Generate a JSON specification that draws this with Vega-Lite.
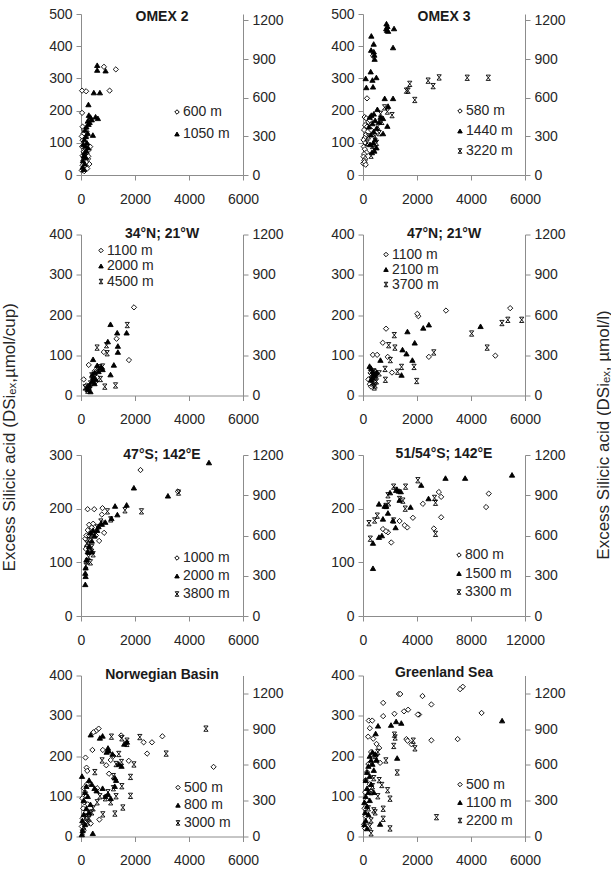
{
  "$schema": "https://vega.github.io/schema/vega-lite/v6.json",
  "padding": {"top": 7, "left": 0, "right": 0, "bottom": 4},
  "background": "white",
  "config": {
    "font": "Liberation Sans",
    "numberFormat": "d",
    "view": {"stroke": null},
    "axis": {"grid": false, "domainColor": "#8c8c8c", "tickColor": "#8c8c8c", "tickSize": 5, "labelFont": "Liberation Sans", "labelFontSize": 14, "labelColor": "#262626", "labelPadding": 4, "labelFlush": false, "labelOverlap": false, "format": "d"},
    "axisX": {"labelPadding": 12},
    "legend": {"labelFont": "Liberation Sans", "labelFontSize": 14, "labelColor": "#262626", "symbolSize": 20, "symbolStrokeWidth": 1, "padding": 0, "labelOffset": -1, "orient": "none"},
    "title": {"font": "Liberation Sans", "fontSize": 14, "fontWeight": "bold", "color": "#1a1a1a", "anchor": "middle", "offset": -13}
  },
  "datasets": {
    "omex2": [
      {"x":40,"dsi":193,"depth":"600 m"},{"x":40,"dsi":262,"depth":"600 m"},{"x":190,"dsi":260,"depth":"600 m"},{"x":850,"dsi":336,"depth":"600 m"},{"x":1290,"dsi":328,"depth":"600 m"},{"x":1060,"dsi":262,"depth":"600 m"},
      {"x":60,"dsi":150,"depth":"600 m"},{"x":120,"dsi":140,"depth":"600 m"},{"x":90,"dsi":128,"depth":"600 m"},{"x":180,"dsi":118,"depth":"600 m"},{"x":60,"dsi":108,"depth":"600 m"},{"x":140,"dsi":100,"depth":"600 m"},{"x":230,"dsi":95,"depth":"600 m"},{"x":40,"dsi":88,"depth":"600 m"},{"x":170,"dsi":82,"depth":"600 m"},{"x":290,"dsi":78,"depth":"600 m"},{"x":100,"dsi":72,"depth":"600 m"},{"x":210,"dsi":66,"depth":"600 m"},{"x":60,"dsi":60,"depth":"600 m"},{"x":150,"dsi":55,"depth":"600 m"},{"x":260,"dsi":50,"depth":"600 m"},{"x":90,"dsi":45,"depth":"600 m"},{"x":190,"dsi":40,"depth":"600 m"},{"x":310,"dsi":34,"depth":"600 m"},{"x":60,"dsi":30,"depth":"600 m"},{"x":140,"dsi":25,"depth":"600 m"},{"x":230,"dsi":20,"depth":"600 m"},{"x":80,"dsi":17,"depth":"600 m"},{"x":30,"dsi":14,"depth":"600 m"},{"x":120,"dsi":12,"depth":"600 m"},{"x":340,"dsi":88,"depth":"600 m"},{"x":270,"dsi":58,"depth":"600 m"},{"x":200,"dsi":135,"depth":"600 m"},{"x":30,"dsi":120,"depth":"600 m"},
      {"x":600,"dsi":341,"depth":"1050 m"},{"x":600,"dsi":326,"depth":"1050 m"},{"x":910,"dsi":324,"depth":"1050 m"},{"x":475,"dsi":256,"depth":"1050 m"},{"x":700,"dsi":256,"depth":"1050 m"},{"x":275,"dsi":219,"depth":"1050 m"},{"x":290,"dsi":186,"depth":"1050 m"},{"x":350,"dsi":180,"depth":"1050 m"},{"x":400,"dsi":172,"depth":"1050 m"},{"x":540,"dsi":181,"depth":"1050 m"},{"x":625,"dsi":176,"depth":"1050 m"},{"x":250,"dsi":168,"depth":"1050 m"},{"x":320,"dsi":164,"depth":"1050 m"},{"x":280,"dsi":158,"depth":"1050 m"},{"x":440,"dsi":124,"depth":"1050 m"},{"x":200,"dsi":150,"depth":"1050 m"},{"x":150,"dsi":140,"depth":"1050 m"},{"x":250,"dsi":130,"depth":"1050 m"},{"x":180,"dsi":120,"depth":"1050 m"},{"x":120,"dsi":110,"depth":"1050 m"},{"x":220,"dsi":100,"depth":"1050 m"},{"x":90,"dsi":95,"depth":"1050 m"},{"x":160,"dsi":90,"depth":"1050 m"},{"x":260,"dsi":85,"depth":"1050 m"},{"x":200,"dsi":75,"depth":"1050 m"},{"x":130,"dsi":70,"depth":"1050 m"},{"x":100,"dsi":60,"depth":"1050 m"},{"x":180,"dsi":55,"depth":"1050 m"},{"x":70,"dsi":45,"depth":"1050 m"},{"x":140,"dsi":35,"depth":"1050 m"},{"x":60,"dsi":25,"depth":"1050 m"},{"x":100,"dsi":18,"depth":"1050 m"}
    ],
    "omex3": [
      {"x":371,"dsi":370,"depth":"580 m"},{"x":148,"dsi":238,"depth":"580 m"},{"x":60,"dsi":180,"depth":"580 m"},{"x":120,"dsi":176,"depth":"580 m"},{"x":200,"dsi":165,"depth":"580 m"},{"x":80,"dsi":155,"depth":"580 m"},{"x":150,"dsi":150,"depth":"580 m"},{"x":40,"dsi":140,"depth":"580 m"},{"x":110,"dsi":125,"depth":"580 m"},{"x":60,"dsi":115,"depth":"580 m"},{"x":20,"dsi":109,"depth":"580 m"},{"x":90,"dsi":100,"depth":"580 m"},{"x":30,"dsi":88,"depth":"580 m"},{"x":70,"dsi":80,"depth":"580 m"},{"x":130,"dsi":70,"depth":"580 m"},{"x":40,"dsi":65,"depth":"580 m"},{"x":20,"dsi":57,"depth":"580 m"},{"x":80,"dsi":50,"depth":"580 m"},{"x":50,"dsi":45,"depth":"580 m"},{"x":10,"dsi":36,"depth":"580 m"},{"x":60,"dsi":40,"depth":"580 m"},{"x":100,"dsi":32,"depth":"580 m"},{"x":250,"dsi":170,"depth":"580 m"},{"x":300,"dsi":140,"depth":"580 m"},
      {"x":870,"dsi":470,"depth":"1440 m"},{"x":905,"dsi":462,"depth":"1440 m"},{"x":860,"dsi":455,"depth":"1440 m"},{"x":890,"dsi":450,"depth":"1440 m"},{"x":930,"dsi":447,"depth":"1440 m"},{"x":1150,"dsi":455,"depth":"1440 m"},{"x":1113,"dsi":396,"depth":"1440 m"},{"x":309,"dsi":432,"depth":"1440 m"},{"x":396,"dsi":407,"depth":"1440 m"},{"x":300,"dsi":388,"depth":"1440 m"},{"x":400,"dsi":383,"depth":"1440 m"},{"x":420,"dsi":373,"depth":"1440 m"},{"x":430,"dsi":360,"depth":"1440 m"},{"x":285,"dsi":321,"depth":"1440 m"},{"x":100,"dsi":300,"depth":"1440 m"},{"x":495,"dsi":303,"depth":"1440 m"},{"x":350,"dsi":295,"depth":"1440 m"},{"x":124,"dsi":272,"depth":"1440 m"},{"x":371,"dsi":274,"depth":"1440 m"},{"x":804,"dsi":238,"depth":"1440 m"},{"x":1113,"dsi":238,"depth":"1440 m"},{"x":928,"dsi":214,"depth":"1440 m"},{"x":742,"dsi":176,"depth":"1440 m"},{"x":903,"dsi":152,"depth":"1440 m"},{"x":742,"dsi":129,"depth":"1440 m"},{"x":532,"dsi":204,"depth":"1440 m"},{"x":309,"dsi":186,"depth":"1440 m"},{"x":400,"dsi":190,"depth":"1440 m"},{"x":250,"dsi":180,"depth":"1440 m"},{"x":450,"dsi":170,"depth":"1440 m"},{"x":350,"dsi":160,"depth":"1440 m"},{"x":220,"dsi":150,"depth":"1440 m"},{"x":500,"dsi":145,"depth":"1440 m"},{"x":400,"dsi":135,"depth":"1440 m"},{"x":300,"dsi":125,"depth":"1440 m"},{"x":450,"dsi":110,"depth":"1440 m"},{"x":380,"dsi":100,"depth":"1440 m"},{"x":260,"dsi":95,"depth":"1440 m"},{"x":500,"dsi":85,"depth":"1440 m"},{"x":420,"dsi":75,"depth":"1440 m"},{"x":330,"dsi":70,"depth":"1440 m"},{"x":650,"dsi":180,"depth":"1440 m"},{"x":600,"dsi":165,"depth":"1440 m"},
      {"x":1608,"dsi":262,"depth":"3220 m"},{"x":1670,"dsi":262,"depth":"3220 m"},{"x":1732,"dsi":283,"depth":"3220 m"},{"x":1918,"dsi":233,"depth":"3220 m"},{"x":2412,"dsi":293,"depth":"3220 m"},{"x":2597,"dsi":276,"depth":"3220 m"},{"x":2820,"dsi":303,"depth":"3220 m"},{"x":3860,"dsi":302,"depth":"3220 m"},{"x":4640,"dsi":302,"depth":"3220 m"},{"x":903,"dsi":197,"depth":"3220 m"},{"x":1076,"dsi":186,"depth":"3220 m"},{"x":800,"dsi":210,"depth":"3220 m"},{"x":650,"dsi":190,"depth":"3220 m"},{"x":700,"dsi":165,"depth":"3220 m"},{"x":550,"dsi":150,"depth":"3220 m"},{"x":600,"dsi":130,"depth":"3220 m"},{"x":450,"dsi":120,"depth":"3220 m"},{"x":500,"dsi":100,"depth":"3220 m"},{"x":350,"dsi":90,"depth":"3220 m"},{"x":400,"dsi":80,"depth":"3220 m"},{"x":300,"dsi":60,"depth":"3220 m"},{"x":200,"dsi":120,"depth":"3220 m"},{"x":150,"dsi":100,"depth":"3220 m"}
    ],
    "n34": [
      {"x":1962,"dsi":219,"depth":"1100 m"},{"x":1776,"dsi":88,"depth":"1100 m"},{"x":1316,"dsi":141,"depth":"1100 m"},{"x":845,"dsi":108,"depth":"1100 m"},{"x":286,"dsi":76,"depth":"1100 m"},{"x":100,"dsi":40,"depth":"1100 m"},{"x":500,"dsi":60,"depth":"1100 m"},{"x":600,"dsi":45,"depth":"1100 m"},{"x":400,"dsi":30,"depth":"1100 m"},{"x":300,"dsi":20,"depth":"1100 m"},{"x":700,"dsi":70,"depth":"1100 m"},{"x":200,"dsi":25,"depth":"1100 m"},{"x":550,"dsi":35,"depth":"1100 m"},
      {"x":1093,"dsi":177,"depth":"2000 m"},{"x":1689,"dsi":156,"depth":"2000 m"},{"x":1341,"dsi":156,"depth":"2000 m"},{"x":1366,"dsi":123,"depth":"2000 m"},{"x":1366,"dsi":108,"depth":"2000 m"},{"x":994,"dsi":134,"depth":"2000 m"},{"x":1093,"dsi":52,"depth":"2000 m"},{"x":447,"dsi":90,"depth":"2000 m"},{"x":1217,"dsi":76,"depth":"2000 m"},{"x":600,"dsi":75,"depth":"2000 m"},{"x":750,"dsi":70,"depth":"2000 m"},{"x":800,"dsi":65,"depth":"2000 m"},{"x":500,"dsi":57,"depth":"2000 m"},{"x":450,"dsi":45,"depth":"2000 m"},{"x":550,"dsi":40,"depth":"2000 m"},{"x":400,"dsi":35,"depth":"2000 m"},{"x":300,"dsi":25,"depth":"2000 m"},{"x":250,"dsi":15,"depth":"2000 m"},{"x":350,"dsi":10,"depth":"2000 m"},{"x":220,"dsi":20,"depth":"2000 m"},{"x":650,"dsi":60,"depth":"2000 m"},{"x":500,"dsi":30,"depth":"2000 m"},{"x":420,"dsi":52,"depth":"2000 m"},
      {"x":1714,"dsi":175,"depth":"4500 m"},{"x":596,"dsi":119,"depth":"4500 m"},{"x":944,"dsi":125,"depth":"4500 m"},{"x":969,"dsi":105,"depth":"4500 m"},{"x":1279,"dsi":25,"depth":"4500 m"},{"x":882,"dsi":22,"depth":"4500 m"},{"x":720,"dsi":41,"depth":"4500 m"},{"x":400,"dsi":50,"depth":"4500 m"},{"x":500,"dsi":45,"depth":"4500 m"},{"x":300,"dsi":22,"depth":"4500 m"},{"x":250,"dsi":12,"depth":"4500 m"},{"x":350,"dsi":30,"depth":"4500 m"},{"x":600,"dsi":65,"depth":"4500 m"},{"x":700,"dsi":70,"depth":"4500 m"},{"x":150,"dsi":20,"depth":"4500 m"},{"x":450,"dsi":38,"depth":"4500 m"},{"x":800,"dsi":72,"depth":"4500 m"}
    ],
    "n47": [
      {"x":5451,"dsi":217,"depth":"1100 m"},{"x":4902,"dsi":99,"depth":"1100 m"},{"x":3073,"dsi":211,"depth":"1100 m"},{"x":2049,"dsi":197,"depth":"1100 m"},{"x":2012,"dsi":203,"depth":"1100 m"},{"x":854,"dsi":166,"depth":"1100 m"},{"x":732,"dsi":131,"depth":"1100 m"},{"x":366,"dsi":101,"depth":"1100 m"},{"x":524,"dsi":101,"depth":"1100 m"},{"x":915,"dsi":96,"depth":"1100 m"},{"x":2439,"dsi":96,"depth":"1100 m"},{"x":1073,"dsi":57,"depth":"1100 m"},{"x":200,"dsi":40,"depth":"1100 m"},{"x":250,"dsi":28,"depth":"1100 m"},{"x":300,"dsi":22,"depth":"1100 m"},{"x":350,"dsi":48,"depth":"1100 m"},{"x":400,"dsi":35,"depth":"1100 m"},{"x":450,"dsi":60,"depth":"1100 m"},{"x":280,"dsi":56,"depth":"1100 m"},
      {"x":4354,"dsi":172,"depth":"2100 m"},{"x":2439,"dsi":176,"depth":"2100 m"},{"x":2232,"dsi":168,"depth":"2100 m"},{"x":1646,"dsi":159,"depth":"2100 m"},{"x":1915,"dsi":131,"depth":"2100 m"},{"x":1463,"dsi":114,"depth":"2100 m"},{"x":1610,"dsi":104,"depth":"2100 m"},{"x":1829,"dsi":88,"depth":"2100 m"},{"x":646,"dsi":88,"depth":"2100 m"},{"x":1427,"dsi":51,"depth":"2100 m"},{"x":244,"dsi":73,"depth":"2100 m"},{"x":300,"dsi":68,"depth":"2100 m"},{"x":350,"dsi":60,"depth":"2100 m"},{"x":400,"dsi":55,"depth":"2100 m"},{"x":450,"dsi":50,"depth":"2100 m"},{"x":500,"dsi":58,"depth":"2100 m"},{"x":350,"dsi":45,"depth":"2100 m"},{"x":300,"dsi":40,"depth":"2100 m"},
      {"x":5878,"dsi":188,"depth":"3700 m"},{"x":5366,"dsi":188,"depth":"3700 m"},{"x":5146,"dsi":180,"depth":"3700 m"},{"x":4024,"dsi":154,"depth":"3700 m"},{"x":4598,"dsi":119,"depth":"3700 m"},{"x":2622,"dsi":107,"depth":"3700 m"},{"x":1159,"dsi":150,"depth":"3700 m"},{"x":951,"dsi":125,"depth":"3700 m"},{"x":1183,"dsi":119,"depth":"3700 m"},{"x":1012,"dsi":88,"depth":"3700 m"},{"x":1890,"dsi":71,"depth":"3700 m"},{"x":1427,"dsi":71,"depth":"3700 m"},{"x":1280,"dsi":59,"depth":"3700 m"},{"x":1988,"dsi":36,"depth":"3700 m"},{"x":829,"dsi":39,"depth":"3700 m"},{"x":817,"dsi":66,"depth":"3700 m"},{"x":400,"dsi":60,"depth":"3700 m"},{"x":450,"dsi":45,"depth":"3700 m"},{"x":500,"dsi":35,"depth":"3700 m"},{"x":350,"dsi":30,"depth":"3700 m"},{"x":450,"dsi":25,"depth":"3700 m"},{"x":300,"dsi":40,"depth":"3700 m"},{"x":600,"dsi":55,"depth":"3700 m"},{"x":420,"dsi":20,"depth":"3700 m"}
    ],
    "s47": [
      {"x":2204,"dsi":272,"depth":"1000 m"},{"x":3588,"dsi":232,"depth":"1000 m"},{"x":245,"dsi":199,"depth":"1000 m"},{"x":490,"dsi":199,"depth":"1000 m"},{"x":796,"dsi":201,"depth":"1000 m"},{"x":771,"dsi":189,"depth":"1000 m"},{"x":857,"dsi":155,"depth":"1000 m"},{"x":673,"dsi":140,"depth":"1000 m"},{"x":159,"dsi":144,"depth":"1000 m"},{"x":300,"dsi":170,"depth":"1000 m"},{"x":350,"dsi":160,"depth":"1000 m"},{"x":250,"dsi":160,"depth":"1000 m"},{"x":200,"dsi":150,"depth":"1000 m"},{"x":400,"dsi":165,"depth":"1000 m"},{"x":450,"dsi":172,"depth":"1000 m"},{"x":550,"dsi":150,"depth":"1000 m"},{"x":300,"dsi":150,"depth":"1000 m"},{"x":220,"dsi":130,"depth":"1000 m"},{"x":180,"dsi":125,"depth":"1000 m"},
      {"x":4739,"dsi":286,"depth":"2000 m"},{"x":1959,"dsi":239,"depth":"2000 m"},{"x":3220,"dsi":224,"depth":"2000 m"},{"x":1261,"dsi":205,"depth":"2000 m"},{"x":1690,"dsi":207,"depth":"2000 m"},{"x":1347,"dsi":189,"depth":"2000 m"},{"x":1127,"dsi":182,"depth":"2000 m"},{"x":649,"dsi":167,"depth":"2000 m"},{"x":159,"dsi":80,"depth":"2000 m"},{"x":170,"dsi":74,"depth":"2000 m"},{"x":159,"dsi":59,"depth":"2000 m"},{"x":900,"dsi":175,"depth":"2000 m"},{"x":750,"dsi":172,"depth":"2000 m"},{"x":600,"dsi":160,"depth":"2000 m"},{"x":450,"dsi":160,"depth":"2000 m"},{"x":350,"dsi":155,"depth":"2000 m"},{"x":500,"dsi":150,"depth":"2000 m"},{"x":400,"dsi":140,"depth":"2000 m"},{"x":300,"dsi":130,"depth":"2000 m"},{"x":250,"dsi":120,"depth":"2000 m"},{"x":200,"dsi":105,"depth":"2000 m"},{"x":170,"dsi":90,"depth":"2000 m"},{"x":400,"dsi":120,"depth":"2000 m"},
      {"x":3612,"dsi":230,"depth":"3800 m"},{"x":2241,"dsi":195,"depth":"3800 m"},{"x":1629,"dsi":197,"depth":"3800 m"},{"x":980,"dsi":195,"depth":"3800 m"},{"x":735,"dsi":176,"depth":"3800 m"},{"x":184,"dsi":94,"depth":"3800 m"},{"x":245,"dsi":102,"depth":"3800 m"},{"x":282,"dsi":141,"depth":"3800 m"},{"x":600,"dsi":165,"depth":"3800 m"},{"x":500,"dsi":150,"depth":"3800 m"},{"x":350,"dsi":150,"depth":"3800 m"},{"x":400,"dsi":128,"depth":"3800 m"},{"x":300,"dsi":120,"depth":"3800 m"},{"x":450,"dsi":115,"depth":"3800 m"},{"x":220,"dsi":135,"depth":"3800 m"},{"x":800,"dsi":172,"depth":"3800 m"},{"x":1100,"dsi":180,"depth":"3800 m"},{"x":280,"dsi":110,"depth":"3800 m"},{"x":350,"dsi":100,"depth":"3800 m"}
    ],
    "s51": [
      {"x":9314,"dsi":228,"depth":"800 m"},{"x":9117,"dsi":203,"depth":"800 m"},{"x":5618,"dsi":231,"depth":"800 m"},{"x":5790,"dsi":222,"depth":"800 m"},{"x":5790,"dsi":184,"depth":"800 m"},{"x":4435,"dsi":209,"depth":"800 m"},{"x":3696,"dsi":183,"depth":"800 m"},{"x":3277,"dsi":165,"depth":"800 m"},{"x":3080,"dsi":169,"depth":"800 m"},{"x":2710,"dsi":177,"depth":"800 m"},{"x":1478,"dsi":162,"depth":"800 m"},{"x":1848,"dsi":156,"depth":"800 m"},{"x":2094,"dsi":137,"depth":"800 m"},{"x":5248,"dsi":163,"depth":"800 m"},{"x":1700,"dsi":158,"depth":"800 m"},
      {"x":11039,"dsi":263,"depth":"1500 m"},{"x":7564,"dsi":257,"depth":"1500 m"},{"x":6111,"dsi":257,"depth":"1500 m"},{"x":4854,"dsi":219,"depth":"1500 m"},{"x":4312,"dsi":244,"depth":"1500 m"},{"x":3523,"dsi":203,"depth":"1500 m"},{"x":2661,"dsi":233,"depth":"1500 m"},{"x":2800,"dsi":232,"depth":"1500 m"},{"x":2500,"dsi":236,"depth":"1500 m"},{"x":2710,"dsi":216,"depth":"1500 m"},{"x":2415,"dsi":165,"depth":"1500 m"},{"x":2218,"dsi":178,"depth":"1500 m"},{"x":1478,"dsi":181,"depth":"1500 m"},{"x":1183,"dsi":209,"depth":"1500 m"},{"x":1725,"dsi":205,"depth":"1500 m"},{"x":1848,"dsi":192,"depth":"1500 m"},{"x":1183,"dsi":147,"depth":"1500 m"},{"x":1400,"dsi":150,"depth":"1500 m"},{"x":739,"dsi":136,"depth":"1500 m"},{"x":739,"dsi":89,"depth":"1500 m"},{"x":2000,"dsi":230,"depth":"1500 m"},{"x":1600,"dsi":205,"depth":"1500 m"},
      {"x":4066,"dsi":253,"depth":"3300 m"},{"x":3154,"dsi":241,"depth":"3300 m"},{"x":2267,"dsi":241,"depth":"3300 m"},{"x":1848,"dsi":225,"depth":"3300 m"},{"x":2957,"dsi":215,"depth":"3300 m"},{"x":3129,"dsi":200,"depth":"3300 m"},{"x":5298,"dsi":220,"depth":"3300 m"},{"x":5372,"dsi":211,"depth":"3300 m"},{"x":5372,"dsi":153,"depth":"3300 m"},{"x":2267,"dsi":178,"depth":"3300 m"},{"x":1059,"dsi":187,"depth":"3300 m"},{"x":862,"dsi":178,"depth":"3300 m"},{"x":443,"dsi":173,"depth":"3300 m"},{"x":542,"dsi":144,"depth":"3300 m"},{"x":1900,"dsi":210,"depth":"3300 m"},{"x":2400,"dsi":235,"depth":"3300 m"},{"x":2700,"dsi":218,"depth":"3300 m"},{"x":1700,"dsi":205,"depth":"3300 m"}
    ],
    "norw": [
      {"x":4910,"dsi":173,"depth":"500 m"},{"x":3013,"dsi":249,"depth":"500 m"},{"x":2628,"dsi":234,"depth":"500 m"},{"x":2321,"dsi":234,"depth":"500 m"},{"x":2449,"dsi":206,"depth":"500 m"},{"x":1487,"dsi":251,"depth":"500 m"},{"x":1769,"dsi":188,"depth":"500 m"},{"x":654,"dsi":268,"depth":"500 m"},{"x":551,"dsi":262,"depth":"500 m"},{"x":462,"dsi":259,"depth":"500 m"},{"x":423,"dsi":215,"depth":"500 m"},{"x":808,"dsi":215,"depth":"500 m"},{"x":936,"dsi":177,"depth":"500 m"},{"x":1038,"dsi":156,"depth":"500 m"},{"x":167,"dsi":196,"depth":"500 m"},{"x":205,"dsi":171,"depth":"500 m"},{"x":231,"dsi":163,"depth":"500 m"},{"x":680,"dsi":42,"depth":"500 m"},{"x":359,"dsi":32,"depth":"500 m"},{"x":100,"dsi":120,"depth":"500 m"},{"x":150,"dsi":110,"depth":"500 m"},{"x":200,"dsi":100,"depth":"500 m"},{"x":50,"dsi":95,"depth":"500 m"},{"x":120,"dsi":85,"depth":"500 m"},{"x":250,"dsi":80,"depth":"500 m"},{"x":80,"dsi":70,"depth":"500 m"},{"x":180,"dsi":60,"depth":"500 m"},{"x":300,"dsi":55,"depth":"500 m"},{"x":60,"dsi":45,"depth":"500 m"},{"x":140,"dsi":35,"depth":"500 m"},{"x":30,"dsi":25,"depth":"500 m"},{"x":100,"dsi":15,"depth":"500 m"},{"x":220,"dsi":130,"depth":"500 m"},{"x":1200,"dsi":200,"depth":"500 m"},{"x":1100,"dsi":190,"depth":"500 m"},{"x":600,"dsi":120,"depth":"500 m"},
      {"x":359,"dsi":253,"depth":"800 m"},{"x":38,"dsi":150,"depth":"800 m"},{"x":800,"dsi":250,"depth":"800 m"},{"x":700,"dsi":245,"depth":"800 m"},{"x":577,"dsi":114,"depth":"800 m"},{"x":436,"dsi":8,"depth":"800 m"},{"x":1256,"dsi":146,"depth":"800 m"},{"x":1026,"dsi":213,"depth":"800 m"},{"x":1167,"dsi":205,"depth":"800 m"},{"x":300,"dsi":140,"depth":"800 m"},{"x":400,"dsi":130,"depth":"800 m"},{"x":500,"dsi":120,"depth":"800 m"},{"x":200,"dsi":125,"depth":"800 m"},{"x":150,"dsi":110,"depth":"800 m"},{"x":250,"dsi":100,"depth":"800 m"},{"x":100,"dsi":90,"depth":"800 m"},{"x":350,"dsi":80,"depth":"800 m"},{"x":200,"dsi":70,"depth":"800 m"},{"x":100,"dsi":55,"depth":"800 m"},{"x":300,"dsi":60,"depth":"800 m"},{"x":50,"dsi":40,"depth":"800 m"},{"x":150,"dsi":30,"depth":"800 m"},{"x":60,"dsi":15,"depth":"800 m"},{"x":30,"dsi":5,"depth":"800 m"},{"x":900,"dsi":100,"depth":"800 m"},{"x":1000,"dsi":105,"depth":"800 m"},{"x":1100,"dsi":95,"depth":"800 m"},{"x":800,"dsi":120,"depth":"800 m"},{"x":1300,"dsi":140,"depth":"800 m"},{"x":1250,"dsi":125,"depth":"800 m"},{"x":1500,"dsi":175,"depth":"800 m"},{"x":1400,"dsi":180,"depth":"800 m"},{"x":1700,"dsi":235,"depth":"800 m"},{"x":1600,"dsi":230,"depth":"800 m"},{"x":1000,"dsi":220,"depth":"800 m"},{"x":950,"dsi":210,"depth":"800 m"},
      {"x":4628,"dsi":268,"depth":"3000 m"},{"x":3154,"dsi":206,"depth":"3000 m"},{"x":2179,"dsi":247,"depth":"3000 m"},{"x":1961,"dsi":179,"depth":"3000 m"},{"x":1833,"dsi":101,"depth":"3000 m"},{"x":1833,"dsi":148,"depth":"3000 m"},{"x":1551,"dsi":72,"depth":"3000 m"},{"x":1256,"dsi":57,"depth":"3000 m"},{"x":1513,"dsi":125,"depth":"3000 m"},{"x":1705,"dsi":238,"depth":"3000 m"},{"x":1513,"dsi":244,"depth":"3000 m"},{"x":1128,"dsi":248,"depth":"3000 m"},{"x":782,"dsi":189,"depth":"3000 m"},{"x":513,"dsi":160,"depth":"3000 m"},{"x":808,"dsi":55,"depth":"3000 m"},{"x":1300,"dsi":180,"depth":"3000 m"},{"x":1500,"dsi":185,"depth":"3000 m"},{"x":1200,"dsi":150,"depth":"3000 m"},{"x":1000,"dsi":110,"depth":"3000 m"},{"x":900,"dsi":95,"depth":"3000 m"},{"x":1100,"dsi":85,"depth":"3000 m"},{"x":700,"dsi":100,"depth":"3000 m"},{"x":600,"dsi":85,"depth":"3000 m"},{"x":450,"dsi":70,"depth":"3000 m"},{"x":400,"dsi":60,"depth":"3000 m"},{"x":300,"dsi":45,"depth":"3000 m"},{"x":250,"dsi":35,"depth":"3000 m"},{"x":200,"dsi":50,"depth":"3000 m"},{"x":100,"dsi":25,"depth":"3000 m"},{"x":50,"dsi":10,"depth":"3000 m"},{"x":1300,"dsi":100,"depth":"3000 m"},{"x":1200,"dsi":120,"depth":"3000 m"},{"x":1700,"dsi":230,"depth":"3000 m"},{"x":1400,"dsi":205,"depth":"3000 m"}
    ],
    "green": [
      {"x":3696,"dsi":372,"depth":"500 m"},{"x":3595,"dsi":366,"depth":"500 m"},{"x":4392,"dsi":307,"depth":"500 m"},{"x":2532,"dsi":328,"depth":"500 m"},{"x":2203,"dsi":349,"depth":"500 m"},{"x":1329,"dsi":354,"depth":"500 m"},{"x":1380,"dsi":354,"depth":"500 m"},{"x":747,"dsi":332,"depth":"500 m"},{"x":2076,"dsi":303,"depth":"500 m"},{"x":2030,"dsi":303,"depth":"500 m"},{"x":1165,"dsi":305,"depth":"500 m"},{"x":1519,"dsi":311,"depth":"500 m"},{"x":1671,"dsi":315,"depth":"500 m"},{"x":747,"dsi":299,"depth":"500 m"},{"x":215,"dsi":288,"depth":"500 m"},{"x":342,"dsi":288,"depth":"500 m"},{"x":253,"dsi":269,"depth":"500 m"},{"x":190,"dsi":248,"depth":"500 m"},{"x":380,"dsi":243,"depth":"500 m"},{"x":2532,"dsi":239,"depth":"500 m"},{"x":3506,"dsi":242,"depth":"500 m"},{"x":1608,"dsi":242,"depth":"500 m"},{"x":1650,"dsi":238,"depth":"500 m"},{"x":1797,"dsi":229,"depth":"500 m"},{"x":633,"dsi":183,"depth":"500 m"},{"x":500,"dsi":230,"depth":"500 m"},{"x":600,"dsi":220,"depth":"500 m"},{"x":450,"dsi":200,"depth":"500 m"},{"x":300,"dsi":210,"depth":"500 m"},{"x":200,"dsi":180,"depth":"500 m"},{"x":150,"dsi":160,"depth":"500 m"},{"x":100,"dsi":140,"depth":"500 m"},{"x":250,"dsi":130,"depth":"500 m"},{"x":80,"dsi":110,"depth":"500 m"},{"x":150,"dsi":90,"depth":"500 m"},{"x":60,"dsi":70,"depth":"500 m"},{"x":100,"dsi":50,"depth":"500 m"},{"x":40,"dsi":30,"depth":"500 m"},{"x":80,"dsi":20,"depth":"500 m"},
      {"x":5152,"dsi":288,"depth":"1100 m"},{"x":557,"dsi":275,"depth":"1100 m"},{"x":1038,"dsi":277,"depth":"1100 m"},{"x":1228,"dsi":286,"depth":"1100 m"},{"x":1418,"dsi":282,"depth":"1100 m"},{"x":468,"dsi":256,"depth":"1100 m"},{"x":1266,"dsi":195,"depth":"1100 m"},{"x":633,"dsi":31,"depth":"1100 m"},{"x":250,"dsi":200,"depth":"1100 m"},{"x":300,"dsi":190,"depth":"1100 m"},{"x":200,"dsi":175,"depth":"1100 m"},{"x":350,"dsi":180,"depth":"1100 m"},{"x":150,"dsi":160,"depth":"1100 m"},{"x":400,"dsi":165,"depth":"1100 m"},{"x":250,"dsi":150,"depth":"1100 m"},{"x":100,"dsi":140,"depth":"1100 m"},{"x":300,"dsi":130,"depth":"1100 m"},{"x":150,"dsi":120,"depth":"1100 m"},{"x":200,"dsi":110,"depth":"1100 m"},{"x":100,"dsi":100,"depth":"1100 m"},{"x":250,"dsi":90,"depth":"1100 m"},{"x":50,"dsi":85,"depth":"1100 m"},{"x":150,"dsi":75,"depth":"1100 m"},{"x":80,"dsi":60,"depth":"1100 m"},{"x":200,"dsi":55,"depth":"1100 m"},{"x":100,"dsi":40,"depth":"1100 m"},{"x":50,"dsi":30,"depth":"1100 m"},{"x":150,"dsi":20,"depth":"1100 m"},{"x":400,"dsi":110,"depth":"1100 m"},{"x":500,"dsi":190,"depth":"1100 m"},{"x":450,"dsi":205,"depth":"1100 m"},{"x":350,"dsi":210,"depth":"1100 m"},
      {"x":2722,"dsi":48,"depth":"2200 m"},{"x":1165,"dsi":253,"depth":"2200 m"},{"x":1190,"dsi":246,"depth":"2200 m"},{"x":1139,"dsi":225,"depth":"2200 m"},{"x":1266,"dsi":159,"depth":"2200 m"},{"x":1861,"dsi":238,"depth":"2200 m"},{"x":1924,"dsi":219,"depth":"2200 m"},{"x":848,"dsi":189,"depth":"2200 m"},{"x":696,"dsi":128,"depth":"2200 m"},{"x":911,"dsi":115,"depth":"2200 m"},{"x":1000,"dsi":94,"depth":"2200 m"},{"x":747,"dsi":69,"depth":"2200 m"},{"x":747,"dsi":44,"depth":"2200 m"},{"x":1000,"dsi":20,"depth":"2200 m"},{"x":450,"dsi":200,"depth":"2200 m"},{"x":550,"dsi":210,"depth":"2200 m"},{"x":500,"dsi":195,"depth":"2200 m"},{"x":400,"dsi":145,"depth":"2200 m"},{"x":350,"dsi":125,"depth":"2200 m"},{"x":300,"dsi":110,"depth":"2200 m"},{"x":450,"dsi":60,"depth":"2200 m"},{"x":300,"dsi":40,"depth":"2200 m"},{"x":400,"dsi":65,"depth":"2200 m"},{"x":250,"dsi":25,"depth":"2200 m"},{"x":300,"dsi":8,"depth":"2200 m"},{"x":200,"dsi":70,"depth":"2200 m"},{"x":600,"dsi":140,"depth":"2200 m"},{"x":550,"dsi":100,"depth":"2200 m"}
    ]
  },
  "title": {"text": "Excess Silicic acid (DSiₑₓ,µmol/cup)", "orient": "left", "anchor": "middle", "fontSize": 17, "fontWeight": "normal", "color": "#262626", "offset": 30},
  "columns": 2,
  "spacing": {"row": 59.5, "column": 120},
  "bounds": "flush",
  "resolve": {"scale": {"shape": "independent", "fill": "independent", "stroke": "independent"}, "legend": {"shape": "independent", "fill": "independent", "stroke": "independent"}},
  "concat": [
    {
      "width": 162, "height": 161, "title": {"text": "OMEX 2", "offset": -17}, "data": {"name": "omex2"},
      "layer": [
        {"mark": {"type": "point", "filled": true, "opacity": 1, "size": 28, "strokeWidth": 0.9}, "encoding": {
          "x": {"field": "x", "type": "quantitative", "title": null, "scale": {"domain": [0, 6000], "nice": false}, "axis": {"values": [0, 2000, 4000, 6000]}},
          "y": {"field": "dsi", "type": "quantitative", "title": null, "scale": {"domain": [0, 500], "nice": false}, "axis": {"values": [0, 100, 200, 300, 400, 500]}},
          "shape": {"field": "depth", "type": "nominal", "title": null, "scale": {"domain": ["600 m", "1050 m"], "range": ["diamond", "triangle-up"]}, "legend": {"legendX": 89, "legendY": 91, "rowPadding": 8}},
          "fill": {"field": "depth", "type": "nominal", "title": null, "scale": {"domain": ["600 m", "1050 m"], "range": ["white", "black"]}, "legend": {"legendX": 89, "legendY": 91, "rowPadding": 8}},
          "stroke": {"field": "depth", "type": "nominal", "title": null, "scale": {"domain": ["600 m", "1050 m"], "range": ["black", "black"]}, "legend": {"legendX": 89, "legendY": 91, "rowPadding": 8}}
        }},
        {"mark": {"type": "rule", "opacity": 0}, "encoding": {"y": {"datum": 0, "type": "quantitative", "title": null, "scale": {"domain": [0, 1250], "nice": false}, "axis": {"orient": "right", "values": [0, 300, 600, 900, 1200]}}}}
      ],
      "resolve": {"scale": {"y": "independent"}}
    },
    {
      "width": 162, "height": 161, "title": {"text": "OMEX 3", "offset": -17}, "data": {"name": "omex3"},
      "layer": [
        {"mark": {"type": "point", "filled": true, "opacity": 1, "size": 28, "strokeWidth": 0.9}, "encoding": {
          "x": {"field": "x", "type": "quantitative", "title": null, "scale": {"domain": [0, 6000], "nice": false}, "axis": {"values": [0, 2000, 4000, 6000]}},
          "y": {"field": "dsi", "type": "quantitative", "title": null, "scale": {"domain": [0, 500], "nice": false}, "axis": {"values": [0, 100, 200, 300, 400, 500]}},
          "shape": {"field": "depth", "type": "nominal", "title": null, "scale": {"domain": ["580 m", "1440 m", "3220 m"], "range": ["diamond", "triangle-up", "M-0.8,-1H0.8L-0.8,1H0.8Z"]}, "legend": {"legendX": 90, "legendY": 90, "rowPadding": 6}},
          "fill": {"field": "depth", "type": "nominal", "title": null, "scale": {"domain": ["580 m", "1440 m", "3220 m"], "range": ["white", "black", "transparent"]}, "legend": {"legendX": 90, "legendY": 90, "rowPadding": 6}},
          "stroke": {"field": "depth", "type": "nominal", "title": null, "scale": {"domain": ["580 m", "1440 m", "3220 m"], "range": ["black", "black", "black"]}, "legend": {"legendX": 90, "legendY": 90, "rowPadding": 6}}
        }},
        {"mark": {"type": "rule", "opacity": 0}, "encoding": {"y": {"datum": 0, "type": "quantitative", "title": null, "scale": {"domain": [0, 1250], "nice": false}, "axis": {"orient": "right", "values": [0, 300, 600, 900, 1200]}}}}
      ],
      "resolve": {"scale": {"y": "independent"}}
    },
    {
      "width": 162, "height": 161, "title": "34°N; 21°W", "data": {"name": "n34"},
      "layer": [
        {"mark": {"type": "point", "filled": true, "opacity": 1, "size": 28, "strokeWidth": 0.9}, "encoding": {
          "x": {"field": "x", "type": "quantitative", "title": null, "scale": {"domain": [0, 6000], "nice": false}, "axis": {"values": [0, 2000, 4000, 6000]}},
          "y": {"field": "dsi", "type": "quantitative", "title": null, "scale": {"domain": [0, 400], "nice": false}, "axis": {"values": [0, 100, 200, 300, 400]}},
          "shape": {"field": "depth", "type": "nominal", "title": null, "scale": {"domain": ["1100 m", "2000 m", "4500 m"], "range": ["diamond", "triangle-up", "M-0.8,-1H0.8L-0.8,1H0.8Z"]}, "legend": {"legendX": 13, "legendY": 9, "rowPadding": 1.5}},
          "fill": {"field": "depth", "type": "nominal", "title": null, "scale": {"domain": ["1100 m", "2000 m", "4500 m"], "range": ["white", "black", "transparent"]}, "legend": {"legendX": 13, "legendY": 9, "rowPadding": 1.5}},
          "stroke": {"field": "depth", "type": "nominal", "title": null, "scale": {"domain": ["1100 m", "2000 m", "4500 m"], "range": ["black", "black", "black"]}, "legend": {"legendX": 13, "legendY": 9, "rowPadding": 1.5}}
        }},
        {"mark": {"type": "rule", "opacity": 0}, "encoding": {"y": {"datum": 0, "type": "quantitative", "title": null, "scale": {"domain": [0, 1200], "nice": false}, "axis": {"orient": "right", "values": [0, 300, 600, 900, 1200]}}}}
      ],
      "resolve": {"scale": {"y": "independent"}}
    },
    {
      "width": 162, "height": 161, "title": "47°N; 21°W", "data": {"name": "n47"},
      "layer": [
        {"mark": {"type": "point", "filled": true, "opacity": 1, "size": 28, "strokeWidth": 0.9}, "encoding": {
          "x": {"field": "x", "type": "quantitative", "title": null, "scale": {"domain": [0, 6000], "nice": false}, "axis": {"values": [0, 2000, 4000, 6000]}},
          "y": {"field": "dsi", "type": "quantitative", "title": null, "scale": {"domain": [0, 400], "nice": false}, "axis": {"values": [0, 100, 200, 300, 400]}},
          "shape": {"field": "depth", "type": "nominal", "title": null, "scale": {"domain": ["1100 m", "2100 m", "3700 m"], "range": ["diamond", "triangle-up", "M-0.8,-1H0.8L-0.8,1H0.8Z"]}, "legend": {"legendX": 16, "legendY": 13, "rowPadding": 1}},
          "fill": {"field": "depth", "type": "nominal", "title": null, "scale": {"domain": ["1100 m", "2100 m", "3700 m"], "range": ["white", "black", "transparent"]}, "legend": {"legendX": 16, "legendY": 13, "rowPadding": 1}},
          "stroke": {"field": "depth", "type": "nominal", "title": null, "scale": {"domain": ["1100 m", "2100 m", "3700 m"], "range": ["black", "black", "black"]}, "legend": {"legendX": 16, "legendY": 13, "rowPadding": 1}}
        }},
        {"mark": {"type": "rule", "opacity": 0}, "encoding": {"y": {"datum": 0, "type": "quantitative", "scale": {"domain": [0, 1200], "nice": false}, "axis": {"orient": "right", "values": [0, 300, 600, 900, 1200], "title": "Excess Silicic acid (DSiₑₓ, µmol/l)", "titleAngle": 270, "titleBaseline": "bottom", "titleAlign": "center", "titleX": 87, "titleY": 200, "titleFont": "Liberation Sans", "titleFontSize": 17, "titleFontWeight": "normal", "titleColor": "#262626"}}}}
      ],
      "resolve": {"scale": {"y": "independent"}}
    },
    {
      "width": 162, "height": 161, "title": {"text": "47°S; 142°E", "offset": -14}, "data": {"name": "s47"},
      "layer": [
        {"mark": {"type": "point", "filled": true, "opacity": 1, "size": 28, "strokeWidth": 0.9}, "encoding": {
          "x": {"field": "x", "type": "quantitative", "title": null, "scale": {"domain": [0, 6000], "nice": false}, "axis": {"values": [0, 2000, 4000, 6000]}},
          "y": {"field": "dsi", "type": "quantitative", "title": null, "scale": {"domain": [0, 300], "nice": false}, "axis": {"values": [0, 100, 200, 300]}},
          "shape": {"field": "depth", "type": "nominal", "title": null, "scale": {"domain": ["1000 m", "2000 m", "3800 m"], "range": ["diamond", "triangle-up", "M-0.8,-1H0.8L-0.8,1H0.8Z"]}, "legend": {"legendX": 89, "legendY": 96, "rowPadding": 4}},
          "fill": {"field": "depth", "type": "nominal", "title": null, "scale": {"domain": ["1000 m", "2000 m", "3800 m"], "range": ["white", "black", "transparent"]}, "legend": {"legendX": 89, "legendY": 96, "rowPadding": 4}},
          "stroke": {"field": "depth", "type": "nominal", "title": null, "scale": {"domain": ["1000 m", "2000 m", "3800 m"], "range": ["black", "black", "black"]}, "legend": {"legendX": 89, "legendY": 96, "rowPadding": 4}}
        }},
        {"mark": {"type": "rule", "opacity": 0}, "encoding": {"y": {"datum": 0, "type": "quantitative", "title": null, "scale": {"domain": [0, 1200], "nice": false}, "axis": {"orient": "right", "values": [0, 300, 600, 900, 1200]}}}}
      ],
      "resolve": {"scale": {"y": "independent"}}
    },
    {
      "width": 162, "height": 161, "title": "51/54°S; 142°E", "data": {"name": "s51"},
      "layer": [
        {"mark": {"type": "point", "filled": true, "opacity": 1, "size": 28, "strokeWidth": 0.9}, "encoding": {
          "x": {"field": "x", "type": "quantitative", "title": null, "scale": {"domain": [0, 12000], "nice": false}, "axis": {"values": [0, 4000, 8000, 12000]}},
          "y": {"field": "dsi", "type": "quantitative", "title": null, "scale": {"domain": [0, 300], "nice": false}, "axis": {"values": [0, 100, 200, 300]}},
          "shape": {"field": "depth", "type": "nominal", "title": null, "scale": {"domain": ["800 m", "1500 m", "3300 m"], "range": ["diamond", "triangle-up", "M-0.8,-1H0.8L-0.8,1H0.8Z"]}, "legend": {"legendX": 89, "legendY": 93, "rowPadding": 4.5}},
          "fill": {"field": "depth", "type": "nominal", "title": null, "scale": {"domain": ["800 m", "1500 m", "3300 m"], "range": ["white", "black", "transparent"]}, "legend": {"legendX": 89, "legendY": 93, "rowPadding": 4.5}},
          "stroke": {"field": "depth", "type": "nominal", "title": null, "scale": {"domain": ["800 m", "1500 m", "3300 m"], "range": ["black", "black", "black"]}, "legend": {"legendX": 89, "legendY": 93, "rowPadding": 4.5}}
        }},
        {"mark": {"type": "rule", "opacity": 0}, "encoding": {"y": {"datum": 0, "type": "quantitative", "title": null, "scale": {"domain": [0, 1200], "nice": false}, "axis": {"orient": "right", "values": [0, 300, 600, 900, 1200]}}}}
      ],
      "resolve": {"scale": {"y": "independent"}}
    },
    {
      "width": 162, "height": 161, "title": "Norwegian Basin", "data": {"name": "norw"},
      "layer": [
        {"mark": {"type": "point", "filled": true, "opacity": 1, "size": 28, "strokeWidth": 0.9}, "encoding": {
          "x": {"field": "x", "type": "quantitative", "title": null, "scale": {"domain": [0, 6000], "nice": false}, "axis": {"values": [0, 2000, 4000, 6000]}},
          "y": {"field": "dsi", "type": "quantitative", "title": null, "scale": {"domain": [0, 400], "nice": false}, "axis": {"values": [0, 100, 200, 300, 400]}},
          "shape": {"field": "depth", "type": "nominal", "title": null, "scale": {"domain": ["500 m", "800 m", "3000 m"], "range": ["diamond", "triangle-up", "M-0.8,-1H0.8L-0.8,1H0.8Z"]}, "legend": {"legendX": 90, "legendY": 105, "rowPadding": 3.7}},
          "fill": {"field": "depth", "type": "nominal", "title": null, "scale": {"domain": ["500 m", "800 m", "3000 m"], "range": ["white", "black", "transparent"]}, "legend": {"legendX": 90, "legendY": 105, "rowPadding": 3.7}},
          "stroke": {"field": "depth", "type": "nominal", "title": null, "scale": {"domain": ["500 m", "800 m", "3000 m"], "range": ["black", "black", "black"]}, "legend": {"legendX": 90, "legendY": 105, "rowPadding": 3.7}}
        }},
        {"mark": {"type": "rule", "opacity": 0}, "encoding": {"y": {"datum": 0, "type": "quantitative", "title": null, "scale": {"domain": [0, 1350], "nice": false}, "axis": {"orient": "right", "values": [0, 300, 600, 900, 1200]}}}}
      ],
      "resolve": {"scale": {"y": "independent"}}
    },
    {
      "width": 162, "height": 161, "title": {"text": "Greenland Sea", "offset": -11}, "data": {"name": "green"},
      "layer": [
        {"mark": {"type": "point", "filled": true, "opacity": 1, "size": 28, "strokeWidth": 0.9}, "encoding": {
          "x": {"field": "x", "type": "quantitative", "title": null, "scale": {"domain": [0, 6000], "nice": false}, "axis": {"values": [0, 2000, 4000, 6000]}},
          "y": {"field": "dsi", "type": "quantitative", "title": null, "scale": {"domain": [0, 400], "nice": false}, "axis": {"values": [0, 100, 200, 300, 400]}},
          "shape": {"field": "depth", "type": "nominal", "title": null, "scale": {"domain": ["500 m", "1100 m", "2200 m"], "range": ["diamond", "triangle-up", "M-0.8,-1H0.8L-0.8,1H0.8Z"]}, "legend": {"legendX": 90, "legendY": 102, "rowPadding": 4}},
          "fill": {"field": "depth", "type": "nominal", "title": null, "scale": {"domain": ["500 m", "1100 m", "2200 m"], "range": ["white", "black", "transparent"]}, "legend": {"legendX": 90, "legendY": 102, "rowPadding": 4}},
          "stroke": {"field": "depth", "type": "nominal", "title": null, "scale": {"domain": ["500 m", "1100 m", "2200 m"], "range": ["black", "black", "black"]}, "legend": {"legendX": 90, "legendY": 102, "rowPadding": 4}}
        }},
        {"mark": {"type": "rule", "opacity": 0}, "encoding": {"y": {"datum": 0, "type": "quantitative", "title": null, "scale": {"domain": [0, 1350], "nice": false}, "axis": {"orient": "right", "values": [0, 300, 600, 900, 1200]}}}}
      ],
      "resolve": {"scale": {"y": "independent"}}
    }
  ]
}
